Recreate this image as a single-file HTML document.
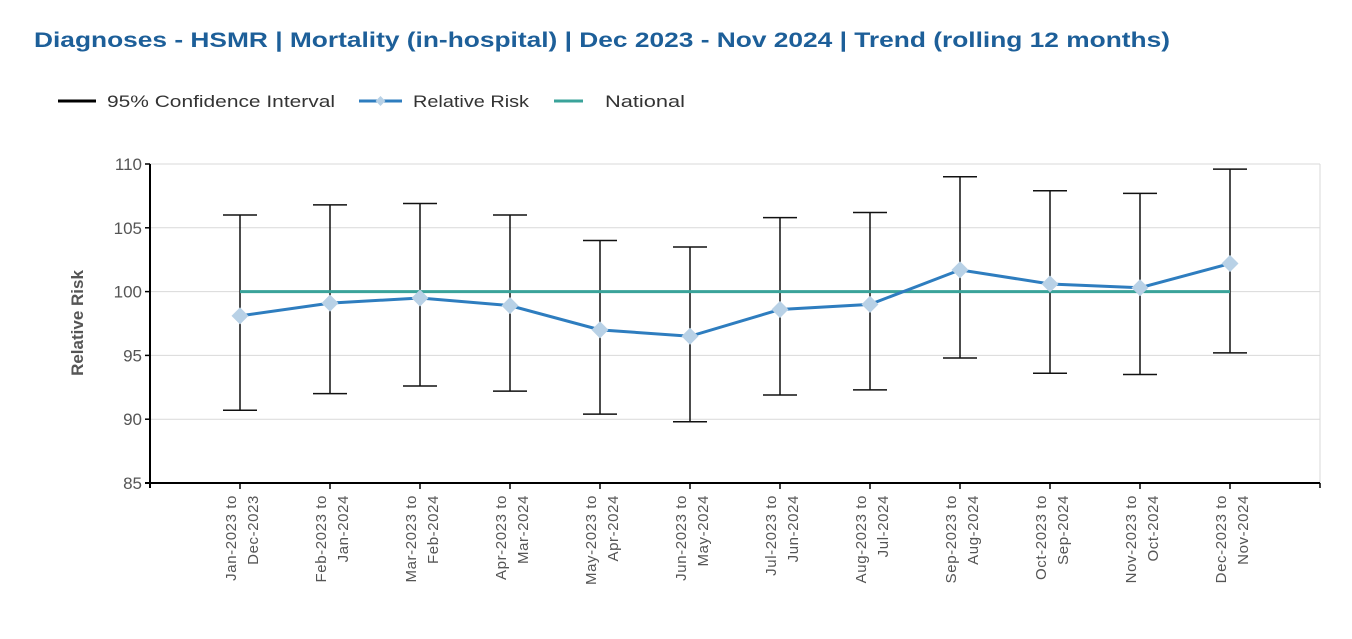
<!DOCTYPE html>
<html><head><meta charset="utf-8"><style>
body{margin:0;background:#fff;}
svg{display:block;font-family:"Liberation Sans","DejaVu Sans",sans-serif;}
</style></head><body>
<svg width="1352" height="639" viewBox="0 0 1352 639">
<text x="34" y="47" font-size="21" font-weight="bold" fill="#1d5f99" textLength="1136" lengthAdjust="spacingAndGlyphs">Diagnoses - HSMR | Mortality (in-hospital) | Dec 2023 - Nov 2024 | Trend (rolling 12 months)</text>
<g font-size="17" fill="#333">
<g><line x1="58" y1="101" x2="96" y2="101" stroke="#000" stroke-width="3"/><text x="107" y="107" textLength="228" lengthAdjust="spacingAndGlyphs">95% Confidence Interval</text></g>
<g><line x1="359" y1="101" x2="402" y2="101" stroke="#2e7dbf" stroke-width="3"/><rect x="377" y="97.5" width="7" height="7" fill="#b8d1e6" transform="rotate(45 380.5 101)"/><text x="413" y="107" textLength="116" lengthAdjust="spacingAndGlyphs">Relative Risk</text></g>
<g><line x1="554" y1="101" x2="583" y2="101" stroke="#3aa39a" stroke-width="3"/><text x="605" y="107" textLength="80" lengthAdjust="spacingAndGlyphs">National</text></g>
</g>
<text transform="translate(83,323) rotate(-90)" text-anchor="middle" font-size="17" font-weight="bold" fill="#555">Relative Risk</text>
<g id="grid"></g><g id="plot"></g>
<script>
const categories=[["Jan-2023 to","Dec-2023"],["Feb-2023 to","Jan-2024"],["Mar-2023 to","Feb-2024"],["Apr-2023 to","Mar-2024"],["May-2023 to","Apr-2024"],["Jun-2023 to","May-2024"],["Jul-2023 to","Jun-2024"],["Aug-2023 to","Jul-2024"],["Sep-2023 to","Aug-2024"],["Oct-2023 to","Sep-2024"],["Nov-2023 to","Oct-2024"],["Dec-2023 to","Nov-2024"]];
const relativeRisk=[98.1,99.1,99.5,98.9,97.0,96.5,98.6,99.0,101.7,100.6,100.3,102.2];
const upperCI=[106.0,106.8,106.9,106.0,104.0,103.5,105.8,106.2,109.0,107.9,107.7,109.6];
const lowerCI=[90.7,92.0,92.6,92.2,90.4,89.8,91.9,92.3,94.8,93.6,93.5,95.2];
const national=[100,100,100,100,100,100,100,100,100,100,100,100];
const yTicks=[85,90,95,100,105,110];
const NS="http://www.w3.org/2000/svg";
const X0=150,X1=1320,Y0=483,Y1=164,ymin=85,ymax=110;
const slot=(X1-X0)/(categories.length+1);
const x=i=>X0+slot*(i+1);
const y=v=>Y0-(v-ymin)/(ymax-ymin)*(Y0-Y1);
function mk(t,a,p){const e=document.createElementNS(NS,t);for(const k in a)e.setAttribute(k,a[k]);p.appendChild(e);return e;}
const grid=document.getElementById('grid'),plot=document.getElementById('plot');
yTicks.forEach(v=>{
 if(v>ymin){const g=mk('line',{x1:X0,x2:X1,y1:y(v),y2:y(v),stroke:'#d9d9d9','stroke-width':1},grid);
 
 }
 mk('line',{x1:X0-5,x2:X0,y1:y(v),y2:y(v),stroke:'#000','stroke-width':1.5},grid);
 const t=mk('text',{x:X0-8,y:y(v)+6,'text-anchor':'end','font-size':17,fill:'#555'},grid);t.textContent=v;
 
 
});
mk('line',{x1:X1,x2:X1,y1:Y1,y2:Y0,stroke:'#d9d9d9'},grid);
const ya=mk('line',{x1:X0,x2:X0,y1:Y1,y2:Y0+5,stroke:'#000','stroke-width':2},grid);


const xa=mk('line',{x1:X0-5,x2:X1,y1:Y0,y2:Y0,stroke:'#000','stroke-width':2},grid);


mk('line',{x1:X1,x2:X1,y1:Y0,y2:Y0+5,stroke:'#000','stroke-width':1.5},grid);
categories.forEach((c,i)=>{
 mk('line',{x1:x(i),x2:x(i),y1:Y0,y2:Y0+6,stroke:'#000','stroke-width':1.5},grid);
 const t=mk('text',{'font-size':15,'letter-spacing':'0.6',fill:'#555','text-anchor':'end',transform:`translate(${x(i)},495) rotate(-90)`},grid);
 
 
 mk('tspan',{x:0,y:-4},t).textContent=c[0];
 mk('tspan',{x:0,y:18},t).textContent=c[1];
});
categories.forEach((c,i)=>{
 const g=mk('g',{stroke:'#111','stroke-width':1.5},plot);
 
 
 mk('line',{x1:x(i),x2:x(i),y1:y(upperCI[i]),y2:y(lowerCI[i])},g);
 mk('line',{x1:x(i)-17,x2:x(i)+17,y1:y(upperCI[i]),y2:y(upperCI[i])},g);
 mk('line',{x1:x(i)-17,x2:x(i)+17,y1:y(lowerCI[i]),y2:y(lowerCI[i])},g);
});
const nl=mk('polyline',{points:national.map((v,i)=>x(i)+','+y(v)).join(' '),fill:'none',stroke:'#3aa39a','stroke-width':3},plot);


const rl=mk('polyline',{points:relativeRisk.map((v,i)=>x(i)+','+y(v)).join(' '),fill:'none',stroke:'#2e7dbf','stroke-width':3},plot);


relativeRisk.forEach((v,i)=>{
 const p=mk('rect',{x:x(i)-6,y:y(v)-6,width:12,height:12,fill:'#b8d1e6',transform:`rotate(45 ${x(i)} ${y(v)})`},plot);
 
 
});
</script>
</svg>
</body></html>
